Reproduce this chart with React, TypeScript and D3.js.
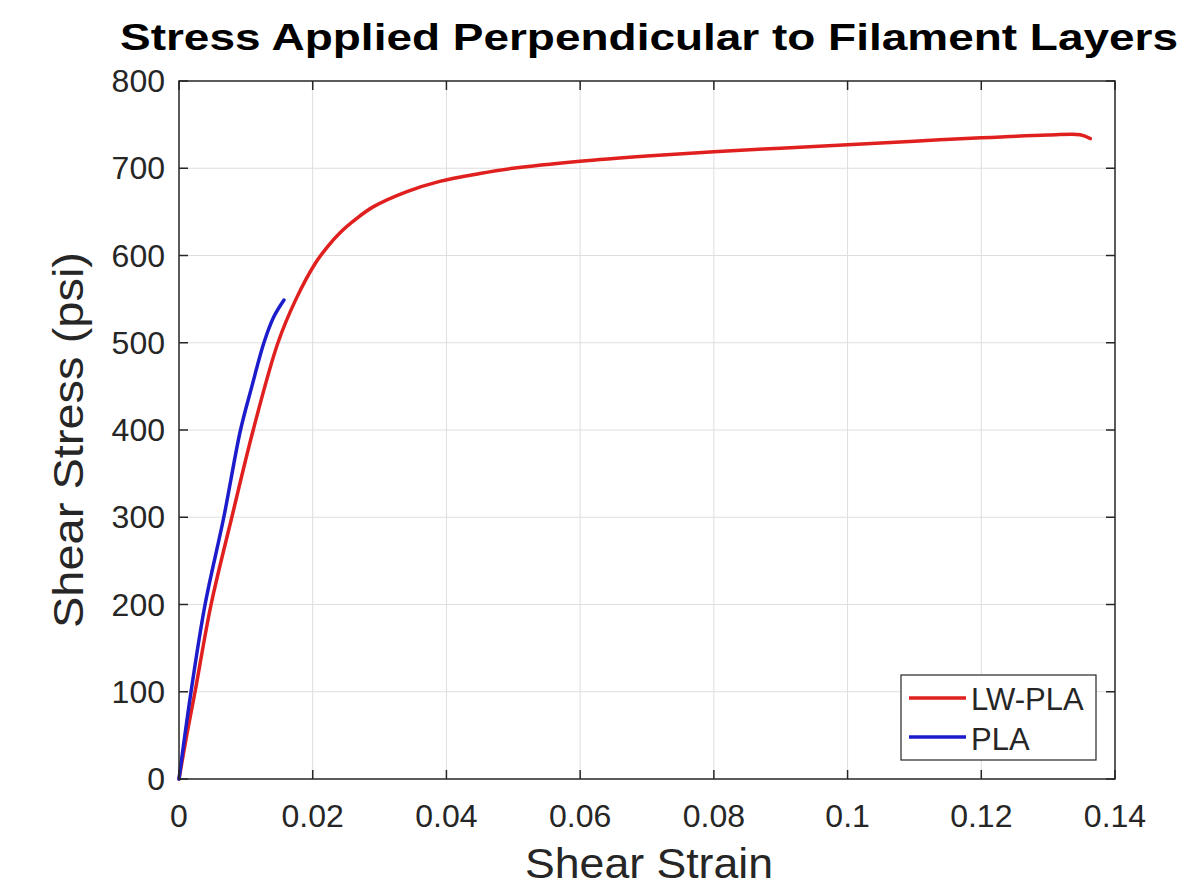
import React from "react";
import * as d3 from "d3";

// LW-PLA curve
const lwStrain = [0, 0.0012, 0.0024, 0.0048, 0.0079, 0.0111, 0.0148, 0.0175, 0.0203, 0.0222, 0.0242, 0.0265, 0.0291, 0.034, 0.039, 0.045, 0.05, 0.06, 0.07, 0.08, 0.09, 0.1, 0.11, 0.12, 0.13, 0.1348, 0.1363];
const lwStress = [0, 52, 100, 200, 300, 400, 500, 550, 590, 610, 627, 642, 656, 673, 685, 694, 700, 708, 714, 719, 723, 727, 731, 735, 738, 738.5, 734];

// PLA curve
const plaStrain = [0, 0.0018, 0.0039, 0.0067, 0.0092, 0.0109, 0.0127, 0.0142, 0.0157];
const plaStress = [0, 100, 200, 300, 400, 450, 500, 530, 549];

const xTicks = [0, 0.02, 0.04, 0.06, 0.08, 0.1, 0.12, 0.14];
const yTicks = [0, 100, 200, 300, 400, 500, 600, 700, 800];
const seriesNames = ["LW-PLA", "PLA"];
const seriesColors = ["#e0201e", "#1c1ccc"];

const W = 1183;
const H = 887;
const left = 179;
const right = 1115;
const top = 81;
const bottom = 779;
const font = "'Liberation Sans', Arial, Helvetica, sans-serif";
const ink = "#262626";

export default function App() {
  const x = d3.scaleLinear().domain([0, 0.14]).range([left, right]);
  const y = d3.scaleLinear().domain([0, 800]).range([bottom, top]);

  const line = d3
    .line<[number, number]>()
    .x((d) => x(d[0]))
    .y((d) => y(d[1]))
    .curve(d3.curveCatmullRom.alpha(0.5));

  const lw = lwStrain.map((s, i) => [s, lwStress[i]] as [number, number]);
  const pla = plaStrain.map((s, i) => [s, plaStress[i]] as [number, number]);

  const fmt = (v: number) => (v === 0 ? "0" : String(+v.toFixed(2)));

  return (
    <svg width={W} height={H} style={{ position: "absolute", left: 0, top: 0, background: "#fff" }}>
      <rect x={0} y={0} width={W} height={H} fill="#fff" />

      {/* grid */}
      <g stroke="#dedede" strokeWidth={1}>
        {xTicks.slice(1, -1).map((t) => (
          <line key={"gx" + t} x1={x(t)} x2={x(t)} y1={top} y2={bottom} />
        ))}
        {yTicks.slice(1, -1).map((t) => (
          <line key={"gy" + t} x1={left} x2={right} y1={y(t)} y2={y(t)} />
        ))}
      </g>

      {/* curves */}
      <path d={line(lw) || ""} fill="none" stroke={seriesColors[0]} strokeWidth={3.5} strokeLinejoin="round" strokeLinecap="round" />
      <path d={line(pla) || ""} fill="none" stroke={seriesColors[1]} strokeWidth={3.5} strokeLinejoin="round" strokeLinecap="round" />

      {/* axes box with inner ticks */}
      <rect x={left} y={top} width={right - left} height={bottom - top} fill="none" stroke={ink} strokeWidth={1.5} />
      <g stroke={ink} strokeWidth={1.5}>
        {xTicks.map((t) => (
          <g key={"tx" + t}>
            <line x1={x(t)} x2={x(t)} y1={bottom} y2={bottom - 9} />
            <line x1={x(t)} x2={x(t)} y1={top} y2={top + 9} />
          </g>
        ))}
        {yTicks.map((t) => (
          <g key={"ty" + t}>
            <line x1={left} x2={left + 9} y1={y(t)} y2={y(t)} />
            <line x1={right} x2={right - 9} y1={y(t)} y2={y(t)} />
          </g>
        ))}
      </g>

      {/* tick labels */}
      <g fontFamily={font} fontSize={32} fill={ink}>
        {xTicks.map((t) => (
          <text key={"lx" + t} x={x(t)} y={827} textAnchor="middle">
            {fmt(t)}
          </text>
        ))}
        {yTicks.map((t) => (
          <text key={"ly" + t} x={165} y={y(t) + 11} textAnchor="end">
            {t}
          </text>
        ))}
      </g>

      {/* titles */}
      <text x={649} y={50} textAnchor="middle" fontFamily={font} fontWeight="bold" fontSize={37} fill="#000" textLength={1058} lengthAdjust="spacingAndGlyphs">
        Stress Applied Perpendicular to Filament Layers
      </text>
      <text x={649} y={878} textAnchor="middle" fontFamily={font} fontSize={42} fill={ink} textLength={248} lengthAdjust="spacingAndGlyphs">
        Shear Strain
      </text>
      <text transform="translate(83,440) rotate(-90)" textAnchor="middle" fontFamily={font} fontSize={42} fill={ink} textLength={376} lengthAdjust="spacingAndGlyphs">
        Shear Stress (psi)
      </text>

      {/* legend */}
      <rect x={901} y={675} width={195} height={85} fill="#fff" stroke={ink} strokeWidth={1.2} />
      {seriesNames.map((n, i) => (
        <g key={n}>
          <line x1={909} x2={966} y1={698 + i * 39} y2={698 + i * 39} stroke={seriesColors[i]} strokeWidth={3.5} />
          <text x={971} y={710 + i * 40} fontFamily={font} fontSize={31} fill={ink}>
            {n}
          </text>
        </g>
      ))}
    </svg>
  );
}
